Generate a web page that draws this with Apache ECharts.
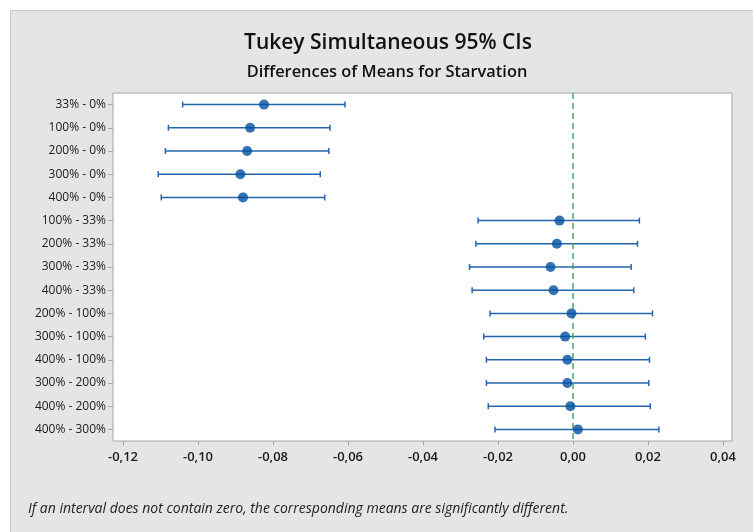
<!DOCTYPE html>
<html>
<head>
<meta charset="utf-8">
<script src="https://cdn.jsdelivr.net/npm/echarts@6/dist/echarts.min.js"></script>
<style>
  html, body { margin: 0; padding: 0; background: #ffffff; }
  #wrap { position: relative; width: 753px; height: 532px; overflow: hidden; }
  #panel { position: absolute; left: 10px; top: 10px; width: 760px; height: 540px;
           background: #e5e5e5; border-top: 1px solid #c9c9c9; border-left: 1px solid #c9c9c9; }
  #chart { position: absolute; left: 0; top: 0; width: 753px; height: 532px; }
</style>
</head>
<body>
<div id="wrap">
  <div id="panel"></div>
  <div id="chart"></div>
</div>
<script>
// Pairwise comparisons of starvation levels (Tukey 95% simultaneous intervals)
const comparisons = ['33% - 0%', '100% - 0%', '200% - 0%', '300% - 0%', '400% - 0%',
  '100% - 33%', '200% - 33%', '300% - 33%', '400% - 33%',
  '200% - 100%', '300% - 100%', '400% - 100%',
  '300% - 200%', '400% - 200%', '400% - 300%'];
const diffMeans = [-0.0824, -0.0861, -0.0869, -0.0887, -0.0880,
  -0.0036, -0.0043, -0.0060, -0.0052,
  -0.0004, -0.0021, -0.0015,
  -0.0015, -0.0007, 0.0013];
const lowerCI = [-0.1041, -0.1079, -0.1087, -0.1106, -0.1098,
  -0.0253, -0.0259, -0.0276, -0.0269,
  -0.0221, -0.0238, -0.0231,
  -0.0231, -0.0226, -0.0208];
const upperCI = [-0.0608, -0.0648, -0.0651, -0.0674, -0.0662,
  0.0177, 0.0172, 0.0155, 0.0162,
  0.0212, 0.0193, 0.0204,
  0.0202, 0.0206, 0.0229];
const xTicks = [-0.12, -0.10, -0.08, -0.06, -0.04, -0.02, 0, 0.02, 0.04];

const FONT = '"Open Sans", "Noto Sans", sans-serif';
const fmt = v => (Math.abs(v) < 1e-9 ? 0 : v).toFixed(2).replace('.', ',');

const chart = echarts.init(document.getElementById('chart'), null, { renderer: 'canvas' });

chart.setOption({
  animation: false,
  backgroundColor: 'transparent',
  title: [
    { text: 'Tukey Simultaneous 95% CIs', left: 383, top: 28, textAlign: 'center',
      textStyle: { fontFamily: FONT, fontSize: 21, fontWeight: 600, color: '#111' } },
    { text: 'Differences of Means for Starvation', left: 382, top: 59, textAlign: 'center',
      textStyle: { fontFamily: FONT, fontSize: 16.4, fontWeight: 600, color: '#111' } }
  ],
  graphic: [
    { type: 'text', left: 28, top: 502,
      style: { text: 'If an interval does not contain zero, the corresponding means are significantly different.',
               font: 'italic 14px ' + FONT, fill: '#222' } }
  ],
  grid: { left: 113, top: 93, right: 21, bottom: 91, show: true,
          backgroundColor: '#ffffff', borderColor: '#a6a6a6', borderWidth: 1 },
  xAxis: {
    type: 'value', min: -0.12267, max: 0.0424,
    splitLine: { show: false },
    axisLine: { show: false, onZero: false },
    axisTick: { show: true, length: 4, lineStyle: { color: '#a6a6a6' }, customValues: xTicks },
    axisLabel: { customValues: xTicks, formatter: fmt, margin: 10,
                 fontFamily: FONT, fontSize: 13, fontWeight: 600, color: '#1a1a1a' }
  },
  yAxis: {
    type: 'category', data: comparisons, inverse: true,
    axisLine: { show: false, onZero: false },
    axisTick: { show: true, length: 5, alignWithLabel: true, lineStyle: { color: '#a6a6a6' } },
    axisLabel: { margin: 7, fontFamily: FONT, fontSize: 12, color: '#1a1a1a' },
    splitLine: { show: false }
  },
  series: [
    {
      type: 'custom',
      name: 'interval',
      encode: { x: [0, 1], y: 2 },
      data: comparisons.map((c, i) => [lowerCI[i], upperCI[i], i]),
      renderItem: function (params, api) {
        const lo = api.coord([api.value(0), api.value(2)]);
        const hi = api.coord([api.value(1), api.value(2)]);
        const style = { stroke: '#2465b0', lineWidth: 1.5 };
        const cap = 3;
        return {
          type: 'group',
          children: [
            { type: 'line', shape: { x1: lo[0], y1: lo[1], x2: hi[0], y2: hi[1] }, style: style },
            { type: 'line', shape: { x1: lo[0], y1: lo[1] - cap, x2: lo[0], y2: lo[1] + cap }, style: style },
            { type: 'line', shape: { x1: hi[0], y1: hi[1] - cap, x2: hi[0], y2: hi[1] + cap }, style: style }
          ]
        };
      },
      z: 2
    },
    {
      type: 'scatter',
      name: 'mean',
      data: diffMeans.map((v, i) => [v, i]),
      symbol: 'circle',
      symbolSize: 10,
      itemStyle: { color: '#0050a0' },
      z: 4,
      markLine: {
        silent: true,
        symbol: 'none',
        label: { show: false },
        lineStyle: { color: '#4aa564', width: 1.5, type: [6, 4] },
        data: [{ xAxis: 0 }],
        z: 3
      }
    }
  ]
});
</script>
</body>
</html>
